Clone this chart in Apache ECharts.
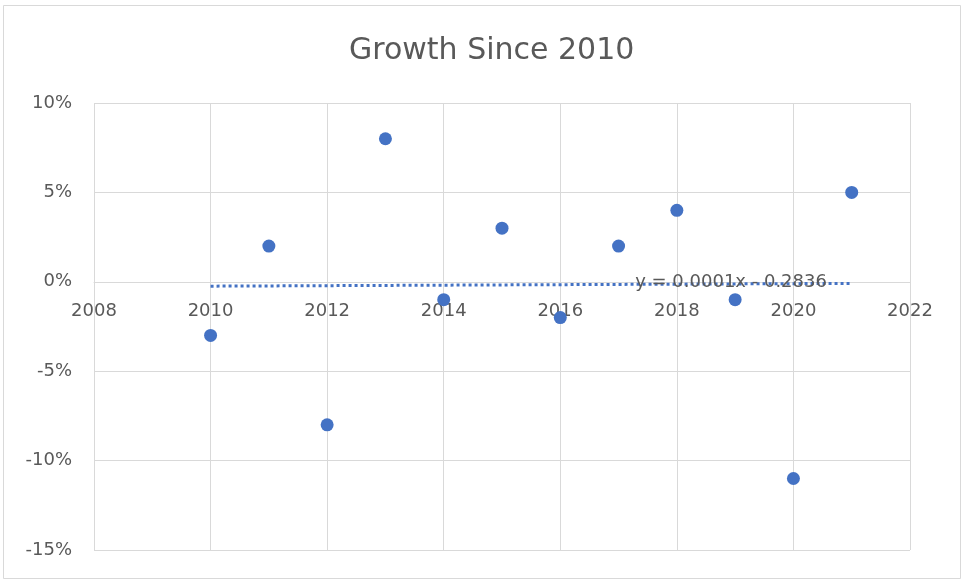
<!DOCTYPE html>
<html>
<head>
<meta charset="utf-8">
<script src="https://cdn.jsdelivr.net/npm/echarts@6/dist/echarts.min.js"></script>
<style>
  html, body { margin: 0; padding: 0; background: #fff; }
  #chart { width: 962px; height: 580px; }
</style>
</head>
<body>
<div id="chart"></div>
<script>
// Annual growth, percent
const years = [2010, 2011, 2012, 2013, 2014, 2015, 2016, 2017, 2018, 2019, 2020, 2021];
const growth = [-3, 2, -8, 8, -1, 3, -2, 2, 4, -1, -11, 5];

// Linear trendline endpoints (percent) and its equation text
const trendYears = [2010, 2021];
const trendValues = [-0.244, -0.09];
const trendLabel = 'y = 0.0001x - 0.2836';
const trendLabelAt = [2018.93, -0.03];

const textColor = '#595959';
const gridColor = '#d9d9d9';
const blue = '#4472C4';
const font = "'DejaVu Sans', Verdana, sans-serif";

const gridTop = 103, gridBottom = 30, chartHeight = 580;
const yMin = -15, yMax = 10;

const chart = echarts.init(document.getElementById('chart'), null, { renderer: 'canvas' });

// The x axis crosses the y axis at 0%
const plotHeight = chartHeight - gridTop - gridBottom;
const zeroOffset = -plotHeight * (0 - yMin) / (yMax - yMin);

chart.setOption({
  animation: false,
  backgroundColor: '#fff',
  title: {
    text: 'Growth Since 2010',
    left: 344,
    top: 31,
    textStyle: { color: textColor, fontSize: 30, fontWeight: 'normal', fontFamily: font }
  },
  graphic: [{
    type: 'rect',
    shape: { x: 3.5, y: 5.5, width: 957, height: 573 },
    style: { fill: 'none', stroke: '#d9d9d9', lineWidth: 1 },
    silent: true
  }],
  grid: { left: 94, right: 52, top: gridTop, bottom: gridBottom, containLabel: false },
  xAxis: {
    type: 'value',
    min: 2008, max: 2022, interval: 2,
    offset: zeroOffset,
    axisLine: { show: true, onZero: false, lineStyle: { color: gridColor, width: 1 } },
    axisTick: { show: false },
    axisLabel: { color: textColor, fontSize: 18, fontFamily: font, margin: 21, formatter: v => String(v) },
    splitLine: { show: true, lineStyle: { color: gridColor, width: 1 } }
  },
  yAxis: {
    type: 'value',
    min: yMin, max: yMax, interval: 5,
    axisLine: { show: false },
    axisTick: { show: false },
    axisLabel: { color: textColor, fontSize: 18, fontFamily: font, formatter: '{value}%', margin: 22 },
    splitLine: { show: true, lineStyle: { color: gridColor, width: 1 } }
  },
  series: [
    {
      type: 'line',
      data: trendYears.map((x, i) => [x, trendValues[i]]),
      symbol: 'none',
      lineStyle: { color: blue, width: 3, type: [3, 3] },
      z: 2,
      markPoint: {
        symbol: 'circle',
        symbolSize: 0,
        data: [{ coord: trendLabelAt, value: trendLabel }],
        label: {
          show: true,
          position: 'inside',
          formatter: trendLabel,
          color: textColor,
          fontSize: 18,
          fontFamily: font
        }
      }
    },
    {
      type: 'scatter',
      data: years.map((x, i) => [x, growth[i]]),
      symbol: 'circle',
      symbolSize: 13,
      itemStyle: { color: blue, opacity: 1 },
      z: 3
    }
  ]
});
</script>
</body>
</html>
